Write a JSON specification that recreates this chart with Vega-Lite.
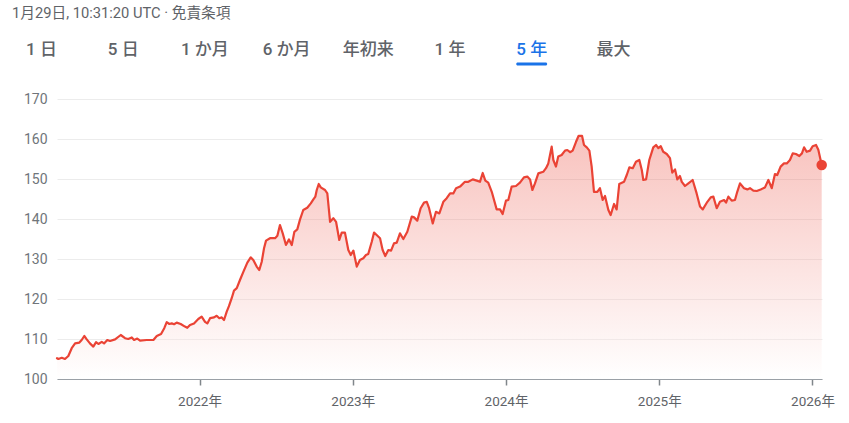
{
  "$schema": "https://vega.github.io/schema/vega-lite/v6.json",
  "background": "white",
  "padding": {"left": 12, "top": 6, "right": 10, "bottom": 6},
  "config": {
    "view": {"stroke": null},
    "font": "Roboto, 'Noto Sans CJK JP', sans-serif",
    "concat": {"spacing": 26}
  },
  "vconcat": [
    {
      "width": 765,
      "height": 30,
      "title": {"text": "1月29日, 10:31:20 UTC · 免責条項", "anchor": "start", "frame": "group", "dx": -45, "fontSize": 14.7, "fontWeight": "normal", "color": "#5f6368", "offset": 14},
      "data": {"values": [
        {"tab": "1 日", "selected": false},
        {"tab": "5 日", "selected": false},
        {"tab": "1 か月", "selected": false},
        {"tab": "6 か月", "selected": false},
        {"tab": "年初来", "selected": false},
        {"tab": "1 年", "selected": false},
        {"tab": "5 年", "selected": true},
        {"tab": "最大", "selected": false}
      ]},
      "layer": [
        {
          "mark": {"type": "text", "fontSize": 17, "fontWeight": 500, "baseline": "middle", "align": "center"},
          "encoding": {
            "x": {"field": "tab", "type": "nominal", "sort": null, "axis": null,
                  "scale": {"type": "point", "padding": 0, "domain": ["1 日", "5 日", "1 か月", "6 か月", "年初来", "1 年", "5 年", "最大"], "range": [-15.5, 556.4]}},
            "text": {"field": "tab"},
            "color": {"condition": {"test": "datum.selected === true", "value": "#1a73e8"}, "value": "#5f6368"}
          }
        },
        {
          "transform": [{"filter": "datum.selected === true"}],
          "mark": {"type": "tick", "orient": "horizontal", "thickness": 3, "size": 31, "color": "#1a73e8", "yOffset": 14, "cornerRadius": 1.5, "opacity": 1},
          "encoding": {
            "x": {"field": "tab", "type": "nominal", "sort": null}
          }
        }
      ]
    },
    {
      "width": 765,
      "height": 280,
      "data": {"values": [
        {"t": 2021.070, "p": 105.2},
        {"t": 2021.079, "p": 105.0},
        {"t": 2021.101, "p": 105.3},
        {"t": 2021.122, "p": 105.0},
        {"t": 2021.144, "p": 105.75},
        {"t": 2021.166, "p": 107.7},
        {"t": 2021.188, "p": 108.9},
        {"t": 2021.216, "p": 109.1},
        {"t": 2021.231, "p": 109.75},
        {"t": 2021.248, "p": 110.75},
        {"t": 2021.264, "p": 109.9},
        {"t": 2021.285, "p": 108.9},
        {"t": 2021.307, "p": 108.1},
        {"t": 2021.325, "p": 109.2},
        {"t": 2021.340, "p": 108.75},
        {"t": 2021.362, "p": 109.3},
        {"t": 2021.377, "p": 108.9},
        {"t": 2021.398, "p": 109.75},
        {"t": 2021.416, "p": 109.5},
        {"t": 2021.449, "p": 109.9},
        {"t": 2021.486, "p": 111.0},
        {"t": 2021.514, "p": 110.2},
        {"t": 2021.535, "p": 110.0},
        {"t": 2021.558, "p": 110.4},
        {"t": 2021.573, "p": 109.75},
        {"t": 2021.594, "p": 110.1},
        {"t": 2021.612, "p": 109.6},
        {"t": 2021.655, "p": 109.75},
        {"t": 2021.699, "p": 109.75},
        {"t": 2021.721, "p": 110.75},
        {"t": 2021.749, "p": 111.25},
        {"t": 2021.770, "p": 112.7},
        {"t": 2021.786, "p": 114.2},
        {"t": 2021.803, "p": 113.75},
        {"t": 2021.819, "p": 113.9},
        {"t": 2021.834, "p": 113.7},
        {"t": 2021.851, "p": 114.1},
        {"t": 2021.877, "p": 113.75},
        {"t": 2021.905, "p": 113.1},
        {"t": 2021.920, "p": 112.8},
        {"t": 2021.938, "p": 113.5},
        {"t": 2021.964, "p": 113.9},
        {"t": 2021.992, "p": 115.0},
        {"t": 2022.014, "p": 115.6},
        {"t": 2022.036, "p": 114.3},
        {"t": 2022.051, "p": 113.9},
        {"t": 2022.069, "p": 115.2},
        {"t": 2022.095, "p": 115.4},
        {"t": 2022.112, "p": 115.8},
        {"t": 2022.129, "p": 115.2},
        {"t": 2022.145, "p": 115.4},
        {"t": 2022.160, "p": 114.75},
        {"t": 2022.177, "p": 116.8},
        {"t": 2022.192, "p": 118.2},
        {"t": 2022.210, "p": 120.2},
        {"t": 2022.225, "p": 122.1},
        {"t": 2022.243, "p": 122.7},
        {"t": 2022.264, "p": 124.75},
        {"t": 2022.286, "p": 126.8},
        {"t": 2022.312, "p": 129.1},
        {"t": 2022.334, "p": 130.4},
        {"t": 2022.351, "p": 129.75},
        {"t": 2022.373, "p": 128.1},
        {"t": 2022.390, "p": 127.25},
        {"t": 2022.406, "p": 129.3},
        {"t": 2022.421, "p": 132.7},
        {"t": 2022.434, "p": 134.6},
        {"t": 2022.460, "p": 135.2},
        {"t": 2022.493, "p": 135.2},
        {"t": 2022.508, "p": 135.8},
        {"t": 2022.525, "p": 138.5},
        {"t": 2022.543, "p": 136.4},
        {"t": 2022.564, "p": 133.5},
        {"t": 2022.584, "p": 134.9},
        {"t": 2022.602, "p": 133.5},
        {"t": 2022.619, "p": 136.8},
        {"t": 2022.638, "p": 137.4},
        {"t": 2022.656, "p": 139.9},
        {"t": 2022.677, "p": 142.25},
        {"t": 2022.703, "p": 142.8},
        {"t": 2022.726, "p": 143.9},
        {"t": 2022.743, "p": 144.9},
        {"t": 2022.756, "p": 145.6},
        {"t": 2022.765, "p": 147.25},
        {"t": 2022.778, "p": 148.75},
        {"t": 2022.791, "p": 147.9},
        {"t": 2022.819, "p": 147.25},
        {"t": 2022.834, "p": 146.4},
        {"t": 2022.852, "p": 139.3},
        {"t": 2022.873, "p": 140.2},
        {"t": 2022.891, "p": 139.3},
        {"t": 2022.912, "p": 134.75},
        {"t": 2022.928, "p": 136.6},
        {"t": 2022.949, "p": 136.6},
        {"t": 2022.971, "p": 132.25},
        {"t": 2022.987, "p": 131.0},
        {"t": 2023.004, "p": 132.1},
        {"t": 2023.026, "p": 128.1},
        {"t": 2023.047, "p": 129.75},
        {"t": 2023.069, "p": 130.2},
        {"t": 2023.086, "p": 131.0},
        {"t": 2023.101, "p": 131.25},
        {"t": 2023.124, "p": 134.3},
        {"t": 2023.139, "p": 136.6},
        {"t": 2023.156, "p": 136.0},
        {"t": 2023.178, "p": 135.2},
        {"t": 2023.195, "p": 132.25},
        {"t": 2023.212, "p": 130.75},
        {"t": 2023.232, "p": 132.25},
        {"t": 2023.250, "p": 132.1},
        {"t": 2023.269, "p": 133.9},
        {"t": 2023.287, "p": 134.1},
        {"t": 2023.308, "p": 136.4},
        {"t": 2023.330, "p": 135.0},
        {"t": 2023.356, "p": 136.8},
        {"t": 2023.385, "p": 140.6},
        {"t": 2023.400, "p": 140.4},
        {"t": 2023.421, "p": 139.6},
        {"t": 2023.443, "p": 142.7},
        {"t": 2023.465, "p": 144.1},
        {"t": 2023.483, "p": 144.3},
        {"t": 2023.498, "p": 142.7},
        {"t": 2023.522, "p": 138.9},
        {"t": 2023.543, "p": 141.8},
        {"t": 2023.565, "p": 141.4},
        {"t": 2023.591, "p": 144.3},
        {"t": 2023.613, "p": 145.2},
        {"t": 2023.635, "p": 146.4},
        {"t": 2023.656, "p": 146.4},
        {"t": 2023.674, "p": 147.7},
        {"t": 2023.700, "p": 148.1},
        {"t": 2023.732, "p": 149.3},
        {"t": 2023.754, "p": 149.3},
        {"t": 2023.783, "p": 149.9},
        {"t": 2023.809, "p": 149.6},
        {"t": 2023.830, "p": 149.3},
        {"t": 2023.848, "p": 151.5},
        {"t": 2023.865, "p": 149.6},
        {"t": 2023.884, "p": 149.1},
        {"t": 2023.907, "p": 146.8},
        {"t": 2023.939, "p": 142.4},
        {"t": 2023.961, "p": 142.4},
        {"t": 2023.978, "p": 141.25},
        {"t": 2024.000, "p": 144.6},
        {"t": 2024.015, "p": 144.75},
        {"t": 2024.037, "p": 148.1},
        {"t": 2024.065, "p": 148.25},
        {"t": 2024.091, "p": 149.1},
        {"t": 2024.117, "p": 150.4},
        {"t": 2024.139, "p": 150.6},
        {"t": 2024.157, "p": 149.9},
        {"t": 2024.172, "p": 147.25},
        {"t": 2024.189, "p": 148.9},
        {"t": 2024.211, "p": 151.4},
        {"t": 2024.243, "p": 151.8},
        {"t": 2024.261, "p": 152.7},
        {"t": 2024.276, "p": 153.9},
        {"t": 2024.298, "p": 158.1},
        {"t": 2024.309, "p": 154.75},
        {"t": 2024.326, "p": 153.1},
        {"t": 2024.341, "p": 155.6},
        {"t": 2024.363, "p": 156.0},
        {"t": 2024.385, "p": 157.1},
        {"t": 2024.400, "p": 157.25},
        {"t": 2024.418, "p": 156.7},
        {"t": 2024.435, "p": 157.1},
        {"t": 2024.457, "p": 159.3},
        {"t": 2024.474, "p": 160.8},
        {"t": 2024.496, "p": 160.8},
        {"t": 2024.509, "p": 158.5},
        {"t": 2024.527, "p": 157.9},
        {"t": 2024.544, "p": 157.1},
        {"t": 2024.559, "p": 153.1},
        {"t": 2024.574, "p": 146.8},
        {"t": 2024.596, "p": 146.8},
        {"t": 2024.613, "p": 147.7},
        {"t": 2024.631, "p": 144.75},
        {"t": 2024.646, "p": 145.75},
        {"t": 2024.668, "p": 142.25},
        {"t": 2024.683, "p": 141.0},
        {"t": 2024.705, "p": 143.75},
        {"t": 2024.722, "p": 142.4},
        {"t": 2024.739, "p": 148.75},
        {"t": 2024.770, "p": 149.3},
        {"t": 2024.788, "p": 151.0},
        {"t": 2024.805, "p": 152.9},
        {"t": 2024.827, "p": 152.7},
        {"t": 2024.848, "p": 154.3},
        {"t": 2024.870, "p": 154.75},
        {"t": 2024.886, "p": 152.25},
        {"t": 2024.896, "p": 149.75},
        {"t": 2024.914, "p": 149.9},
        {"t": 2024.935, "p": 154.75},
        {"t": 2024.961, "p": 157.9},
        {"t": 2024.979, "p": 158.5},
        {"t": 2024.994, "p": 157.7},
        {"t": 2025.010, "p": 158.2},
        {"t": 2025.026, "p": 156.8},
        {"t": 2025.049, "p": 156.25},
        {"t": 2025.070, "p": 155.2},
        {"t": 2025.085, "p": 151.6},
        {"t": 2025.103, "p": 152.4},
        {"t": 2025.118, "p": 149.9},
        {"t": 2025.135, "p": 150.75},
        {"t": 2025.147, "p": 149.3},
        {"t": 2025.168, "p": 148.25},
        {"t": 2025.190, "p": 148.9},
        {"t": 2025.218, "p": 149.75},
        {"t": 2025.244, "p": 146.4},
        {"t": 2025.266, "p": 143.1},
        {"t": 2025.284, "p": 142.4},
        {"t": 2025.314, "p": 144.3},
        {"t": 2025.336, "p": 145.4},
        {"t": 2025.353, "p": 145.6},
        {"t": 2025.375, "p": 142.7},
        {"t": 2025.396, "p": 144.3},
        {"t": 2025.423, "p": 144.75},
        {"t": 2025.436, "p": 144.1},
        {"t": 2025.451, "p": 145.6},
        {"t": 2025.473, "p": 144.6},
        {"t": 2025.494, "p": 144.75},
        {"t": 2025.509, "p": 146.8},
        {"t": 2025.527, "p": 148.9},
        {"t": 2025.553, "p": 147.7},
        {"t": 2025.575, "p": 147.4},
        {"t": 2025.592, "p": 147.7},
        {"t": 2025.614, "p": 147.1},
        {"t": 2025.636, "p": 147.0},
        {"t": 2025.662, "p": 147.4},
        {"t": 2025.690, "p": 147.9},
        {"t": 2025.712, "p": 149.75},
        {"t": 2025.734, "p": 147.7},
        {"t": 2025.755, "p": 151.25},
        {"t": 2025.770, "p": 151.0},
        {"t": 2025.792, "p": 153.1},
        {"t": 2025.814, "p": 153.9},
        {"t": 2025.832, "p": 153.9},
        {"t": 2025.853, "p": 154.75},
        {"t": 2025.871, "p": 156.4},
        {"t": 2025.892, "p": 156.25},
        {"t": 2025.914, "p": 155.75},
        {"t": 2025.931, "p": 156.4},
        {"t": 2025.945, "p": 157.9},
        {"t": 2025.962, "p": 156.8},
        {"t": 2025.984, "p": 157.1},
        {"t": 2026.001, "p": 158.2},
        {"t": 2026.023, "p": 158.5},
        {"t": 2026.038, "p": 157.3},
        {"t": 2026.060, "p": 153.5}
      ]},
      "encoding": {
        "x": {"field": "t", "type": "quantitative",
              "scale": {"domain": [2021.07, 2026.062], "nice": false, "zero": false},
              "axis": {"values": [2022, 2023, 2024, 2025, 2026], "labelExpr": "datum.value + '年'", "grid": false, "title": null,
                       "domainColor": "#9aa0a6", "domainWidth": 1, "tickColor": "#80868b", "tickSize": 6, "tickWidth": 1.5,
                       "labelFontSize": 13.5, "labelColor": "#5f6368", "labelPadding": 9, "labelFlush": false}},
        "y": {"field": "p", "type": "quantitative",
              "scale": {"domain": [100, 170], "nice": false, "zero": false},
              "axis": {"values": [100, 110, 120, 130, 140, 150, 160, 170], "title": null, "domain": false, "ticks": false,
                       "gridColor": "#ececec", "gridWidth": 1, "labelFontSize": 14, "labelColor": "#70757a", "labelPadding": 10}}
      },
      "layer": [
        {
          "mark": {"type": "area", "fillOpacity": 0.32,
                   "color": {"gradient": "linear", "x1": 0, "y1": 1, "x2": 0, "y2": 0,
                             "stops": [{"offset": 0, "color": "#ffffff"}, {"offset": 1, "color": "#ea4335"}]}},
          "encoding": {"y2": {"datum": 100}}
        },
        {
          "mark": {"type": "line", "color": "#ea4335", "strokeWidth": 2.2, "strokeJoin": "round", "strokeCap": "round"}
        },
        {
          "transform": [{"filter": "datum.t >= 2026.06"}],
          "mark": {"type": "circle", "color": "#ea4335", "size": 110, "opacity": 1}
        }
      ]
    }
  ]
}
